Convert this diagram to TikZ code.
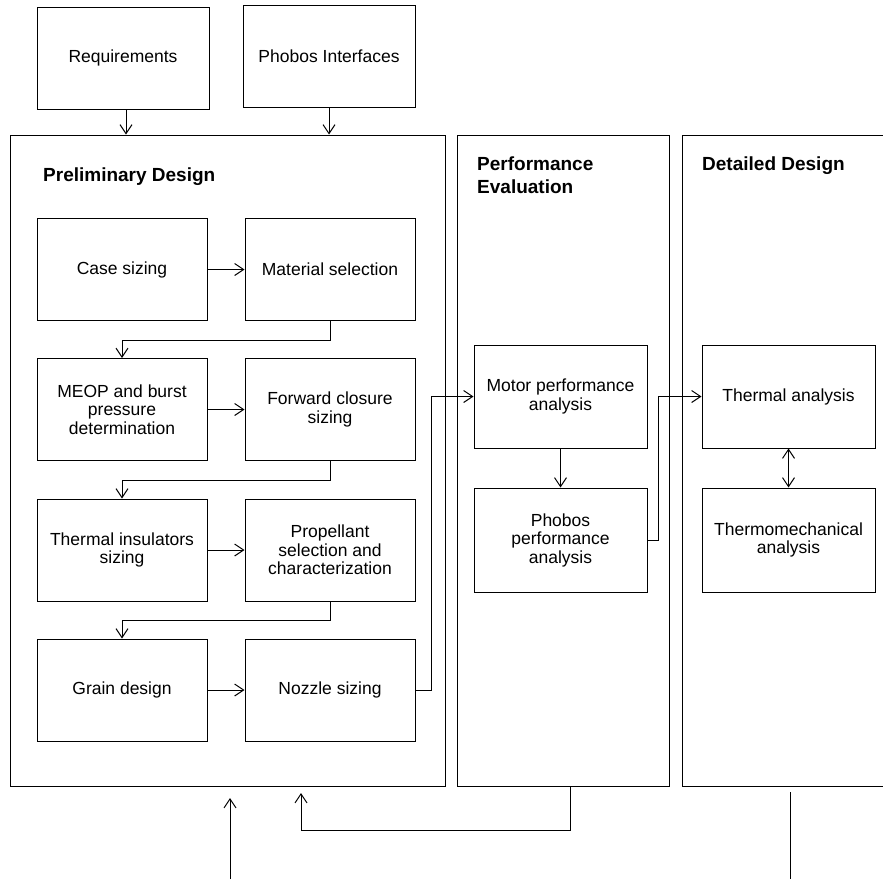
\documentclass[tikz,border=0pt]{standalone}
\usepackage{fontspec}
\setmainfont{Liberation Sans}
\usepackage{tikz}
\usetikzlibrary{arrows.meta,calc,positioning}
\tikzstyle{block} =[rectangle, draw, line width=1pt,
                    minimum width=170pt, minimum height=102pt,
                    inner sep=2pt, align=center,
                    font=\fontsize{17.5}{18.5}\selectfont]
\tikzstyle{panel} =[rectangle, draw, line width=1pt,
                    minimum height=651pt, inner sep=0pt]
\tikzstyle{title} =[anchor=north west, inner sep=0pt, align=left,
                    font=\fontsize{19}{23}\selectfont\bfseries]
\tikzstyle{edge}  =[->, >={Straight Barb[length=9pt,width=12pt]},
                    line width=1pt]

\begin{document}
\begin{tikzpicture}[x=1pt,y=-1pt]
    \useasboundingbox (0,0) rectangle (883,879);

    % stages
    \draw (227.5,460.5) node (pd) [panel,minimum width=435pt] {};
    \draw (563,460.5) node (pe) [panel,minimum width=212pt] {};
    \draw (788,460.5) node (dd) [panel,minimum width=212pt] {};
    \draw (43,168) node (pdt) [title] {Preliminary Design};
    \draw (477,157) node (pet) [title] {Performance\\Evaluation};
    \draw (702,157) node (ddt) [title] {Detailed Design};

    % inputs
    \draw (123,58) node (req) [block,minimum width=172pt] {Requirements};
    \draw (329,56) node (pho) [block,minimum width=172pt] {Phobos Interfaces};

    % preliminary design
    \draw (122,269.5) node (cs) [block] {Case sizing};
    \draw (330,269.5) node (ms) [block] {Material selection};
    \draw (122,409.5) node (meop) [block] {MEOP and burst\\pressure\\determination};
    \draw (330,409.5) node (fcs) [block] {Forward closure\\sizing};
    \draw (122,550) node (tis) [block] {Thermal insulators\\sizing};
    \draw (330,550) node (psc) [block] {Propellant\\selection and\\characterization};
    \draw (122,690) node (gd) [block] {Grain design};
    \draw (330,690) node (ns) [block] {Nozzle sizing};

    % performance evaluation
    \draw (560.5,396.5) node (mpa) [block,minimum width=173pt,minimum height=103pt] {Motor performance\\analysis};
    \draw (560.5,540) node (ppa) [block,minimum width=173pt,minimum height=104pt] {Phobos\\performance\\analysis};

    % detailed design
    \draw (788.5,396.5) node (ta) [block,minimum width=173pt,minimum height=103pt] {Thermal analysis};
    \draw (788.5,540) node (tma) [block,minimum width=173pt,minimum height=104pt] {Thermomechanical\\analysis};

    \foreach \i/\j in {cs/ms,meop/fcs,tis/psc,gd/ns,mpa/ppa}
        \draw [edge] (\i) -- (\j);

    \foreach \i/\j in {ms/meop,fcs/tis,psc/gd}
        \draw [edge] (\i.south) -- ++(0,19) -| (\j.north);

    \draw [edge] ([xshift=3pt]req.south) -- ([xshift=3pt]req.south |- pd.north);
    \draw [edge] (pho.south) -- (pho.south |- pd.north);
    \draw [edge] (ns.east) -- ++(16,0) |- (mpa.west);
    \draw [edge] (ppa.east) -- ++(11,0) |- (ta.west);
    \draw [edge,<->] (ta) -- (tma);

    % loose ends at the bottom
    \coordinate (in0) at (230,879);
    \coordinate (in1) at (230,798);
    \coordinate (fb) at (301,793);
    \coordinate (out0) at (790,792);
    \coordinate (out1) at (790,879);
    \draw [edge] (in0) -- (in1);
    \draw [edge] ([xshift=7pt]pe.south) -- ++(0,44) -| (fb);
    \draw [line width=1pt] (out0) -- (out1);

\end{tikzpicture}
\end{document}
